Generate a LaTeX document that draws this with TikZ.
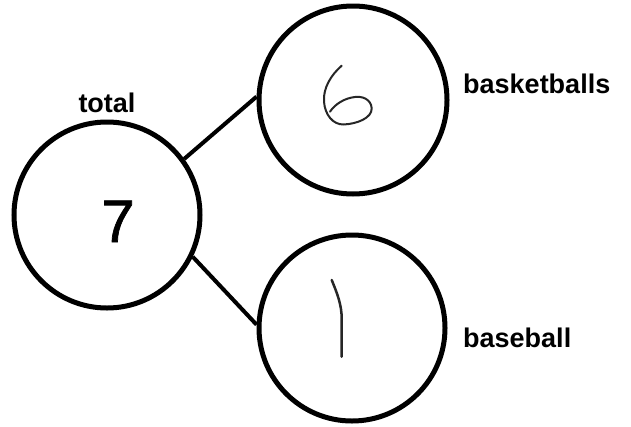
\documentclass[tikz,border=0pt]{standalone}
\usepackage{fontspec}
\setmainfont{Liberation Sans}
\newfontfamily\numfont[FakeBold=1.2]{Liberation Sans}
\begin{document}
\begin{tikzpicture}[x=1pt,y=-1pt,
  ring/.style={circle,draw,line width=5pt,inner sep=0pt,minimum size=#1},
  lbl/.style={font=\fontsize{27}{30}\selectfont\bfseries,inner sep=0pt,anchor=base west},
  link/.style={line width=4pt},
  hand/.style={line width=2pt,line cap=round,line join=round,black!85}]
\useasboundingbox (0,0) rectangle (631,426);
\node[ring=186pt] (tot) at (107,215) {};
\node[ring=188pt] (bk) at (353,100) {};
\node[ring=186pt] (bs) at (352,328) {};
\draw[link] (tot.36) -- (bk.178);
\draw[link] (tot.-26) -- (bs.178);
% numbers
\node[font=\numfont\fontsize{60}{60}\selectfont,inner sep=0pt,anchor=base] (seven) at (118,242) {7};
\draw[hand] (341.7,65.7) .. controls (331,75) and (323,88) .. (324,101.7)
  .. controls (325,115) and (333,124.5) .. (343.3,124.5)
  .. controls (357,124) and (372,118) .. (371.7,108.3)
  .. controls (371,99) and (362,96) .. (355,97)
  .. controls (345,98) and (335,104) .. (330,111.7);
\draw[hand,line width=2.5pt] (331.7,280) .. controls (337,293) and (342,305) .. (341.7,320)
  -- (341.7,356.7);
% labels
\node[lbl,anchor=base] (ltot) at (107,112) {total};
\node[lbl] (lbk) at (463,93) {basketballs};
\node[lbl] (lbs) at (463,347) {baseball};
\end{tikzpicture}
\end{document}
